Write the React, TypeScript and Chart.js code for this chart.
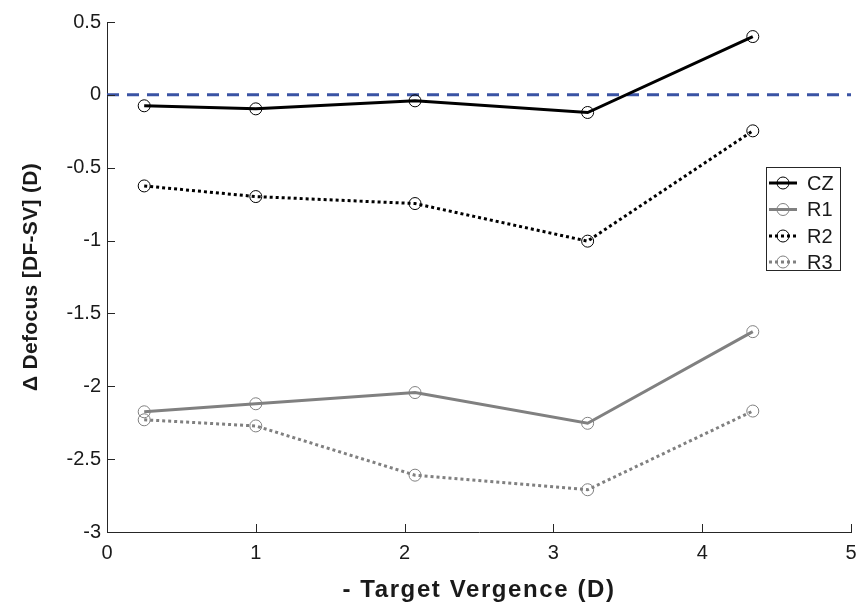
import React, { useEffect, useRef } from "react";
import { Chart, registerables } from "chart.js";

Chart.register(...registerables);

const xValues = [0.25, 1.0, 2.07, 3.23, 4.34];
const czValues = [-0.075, -0.096, -0.041, -0.121, 0.4];
const r1Values = [-2.175, -2.12, -2.043, -2.254, -1.625];
const r2Values = [-0.625, -0.698, -0.746, -1.004, -0.247];
const r3Values = [-2.23, -2.272, -2.61, -2.71, -2.17];
const seriesNames = ["CZ", "R1", "R2", "R3"];
const yTicks = [-3, -2.5, -2, -1.5, -1, -0.5, 0, 0.5];
const xTicks = [0, 1, 2, 3, 4, 5];
const xTitle = "- Target Vergence (D)";
const yTitle = "Δ Defocus [DF-SV] (D)";

const FONT = "'Liberation Sans', Arial, Helvetica, sans-serif";

const inwardTicks = {
  id: "inwardTicks",
  afterDatasetsDraw(chart: any) {
    const { ctx, scales } = chart;
    const xs = scales.x;
    const ys = scales.y;
    ctx.save();
    ctx.strokeStyle = "#262626";
    ctx.lineWidth = 1;
    ctx.beginPath();
    xTicks.forEach((v) => {
      const px = Math.round(xs.getPixelForValue(v)) + 0.5;
      ctx.moveTo(px, ys.bottom);
      ctx.lineTo(px, ys.bottom - 8);
    });
    yTicks.forEach((v) => {
      const py = Math.round(ys.getPixelForValue(v)) + 0.5;
      ctx.moveTo(xs.left, py);
      ctx.lineTo(xs.left + 8, py);
    });
    ctx.stroke();
    ctx.restore();
  },
};

const axisTitles = {
  id: "axisTitles",
  afterDraw(chart: any) {
    const { ctx, chartArea } = chart;
    ctx.save();
    ctx.fillStyle = "#1a1a1a";
    ctx.textAlign = "center";
    ctx.textBaseline = "alphabetic";
    ctx.font = `bold 24px ${FONT}`;
    (ctx as any).letterSpacing = "1.6px";
    ctx.fillText(xTitle, (chartArea.left + chartArea.right) / 2, 597);
    (ctx as any).letterSpacing = "0.3px";
    ctx.font = `bold 21px ${FONT}`;
    ctx.translate(37, (chartArea.top + chartArea.bottom) / 2);
    ctx.rotate(-Math.PI / 2);
    ctx.fillText(yTitle, 0, 0);
    ctx.restore();
  },
};

const boxLegend = {
  id: "boxLegend",
  afterDraw(chart: any) {
    const { ctx } = chart;
    const x0 = 766.5;
    const y0 = 167.5;
    const w = 74;
    const h = 103;
    ctx.save();
    ctx.fillStyle = "#ffffff";
    ctx.fillRect(x0, y0, w, h);
    ctx.strokeStyle = "#262626";
    ctx.lineWidth = 1;
    ctx.strokeRect(x0, y0, w, h);
    const rows = [183, 209.5, 236, 262];
    chart.data.datasets.slice(0, 4).forEach((ds: any, i: number) => {
      const cy = rows[i];
      ctx.save();
      ctx.strokeStyle = ds.borderColor;
      ctx.lineWidth = ds.borderWidth;
      ctx.setLineDash(ds.borderDash || []);
      ctx.beginPath();
      ctx.moveTo(769, cy);
      ctx.lineTo(797, cy);
      ctx.stroke();
      ctx.setLineDash([]);
      ctx.lineWidth = 1;
      ctx.strokeStyle = ds.pointBorderColor;
      ctx.beginPath();
      ctx.arc(783, cy, 6, 0, Math.PI * 2);
      ctx.stroke();
      ctx.restore();
      ctx.fillStyle = "#1a1a1a";
      ctx.font = `20px ${FONT}`;
      ctx.textAlign = "left";
      ctx.textBaseline = "middle";
      ctx.fillText(ds.label, 807, cy + 1);
    });
    ctx.restore();
  },
};

function pts(ys: number[]) {
  return xValues.map((x, i) => ({ x, y: ys[i] }));
}

export default function App() {
  const ref = useRef<HTMLCanvasElement>(null);
  useEffect(() => {
    if (!ref.current) return;
    const mk = (label: string, data: number[], color: string, marker: string, dash?: number[]) => ({
      label,
      data: pts(data),
      borderColor: color,
      borderWidth: 3,
      borderDash: dash,
      pointRadius: 6,
      pointBorderWidth: 1,
      pointBorderColor: marker,
      pointBackgroundColor: "rgba(0,0,0,0)",
      showLine: true,
      fill: false,
      tension: 0,
    });
    const chart = new Chart(ref.current, {
      type: "scatter",
      data: {
        datasets: [
          mk(seriesNames[0], czValues, "#000000", "#000000"),
          mk(seriesNames[1], r1Values, "#808080", "#808080"),
          mk(seriesNames[2], r2Values, "#000000", "#000000", [3, 3]),
          mk(seriesNames[3], r3Values, "#808080", "#808080", [3, 3]),
          {
            label: "zero",
            data: [
              { x: 0, y: 0 },
              { x: 5, y: 0 },
            ],
            borderColor: "#3a53a4",
            borderWidth: 3,
            borderDash: [12, 8],
            pointRadius: 0,
            showLine: true,
            fill: false,
          } as any,
        ],
      },
      options: {
        animation: false,
        responsive: false,
        maintainAspectRatio: false,
        layout: { padding: { top: 22, right: 0, left: 0, bottom: 0 } },
        plugins: { legend: { display: false }, tooltip: { enabled: false } },
        scales: {
          x: {
            type: "linear",
            min: 0,
            max: 5,
            afterFit: (s: any) => {
              s.height = 72;
              s.paddingLeft = 0;
              s.paddingRight = 0;
            },
            afterBuildTicks: (s: any) => {
              s.ticks = xTicks.map((v) => ({ value: v }));
            },
            grid: { display: false, drawTicks: false },
            border: { display: true, color: "#262626", width: 1 },
            ticks: {
              color: "#1a1a1a",
              font: { family: FONT, size: 20 },
              padding: 9,
              maxRotation: 0,
              callback: (v: any) => String(v),
            },
            title: { display: false },
          },
          y: {
            type: "linear",
            min: -3,
            max: 0.5,
            afterFit: (s: any) => {
              s.width = 107;
              s.paddingTop = 0;
              s.paddingBottom = 0;
            },
            afterBuildTicks: (s: any) => {
              s.ticks = yTicks.map((v) => ({ value: v }));
            },
            grid: { display: false, drawTicks: false },
            border: { display: true, color: "#262626", width: 1 },
            ticks: {
              color: "#1a1a1a",
              font: { family: FONT, size: 20 },
              padding: 6,
              callback: (v: any) => String(v),
            },
            title: { display: false },
          },
        },
      },
      plugins: [inwardTicks, axisTitles, boxLegend],
    });
    return () => chart.destroy();
  }, []);
  return (
    <div style={{ position: "fixed", left: 0, top: 0, width: 858, height: 604, background: "#fff" }}>
      <canvas ref={ref} width={858} height={604} style={{ display: "block" }} />
    </div>
  );
}
